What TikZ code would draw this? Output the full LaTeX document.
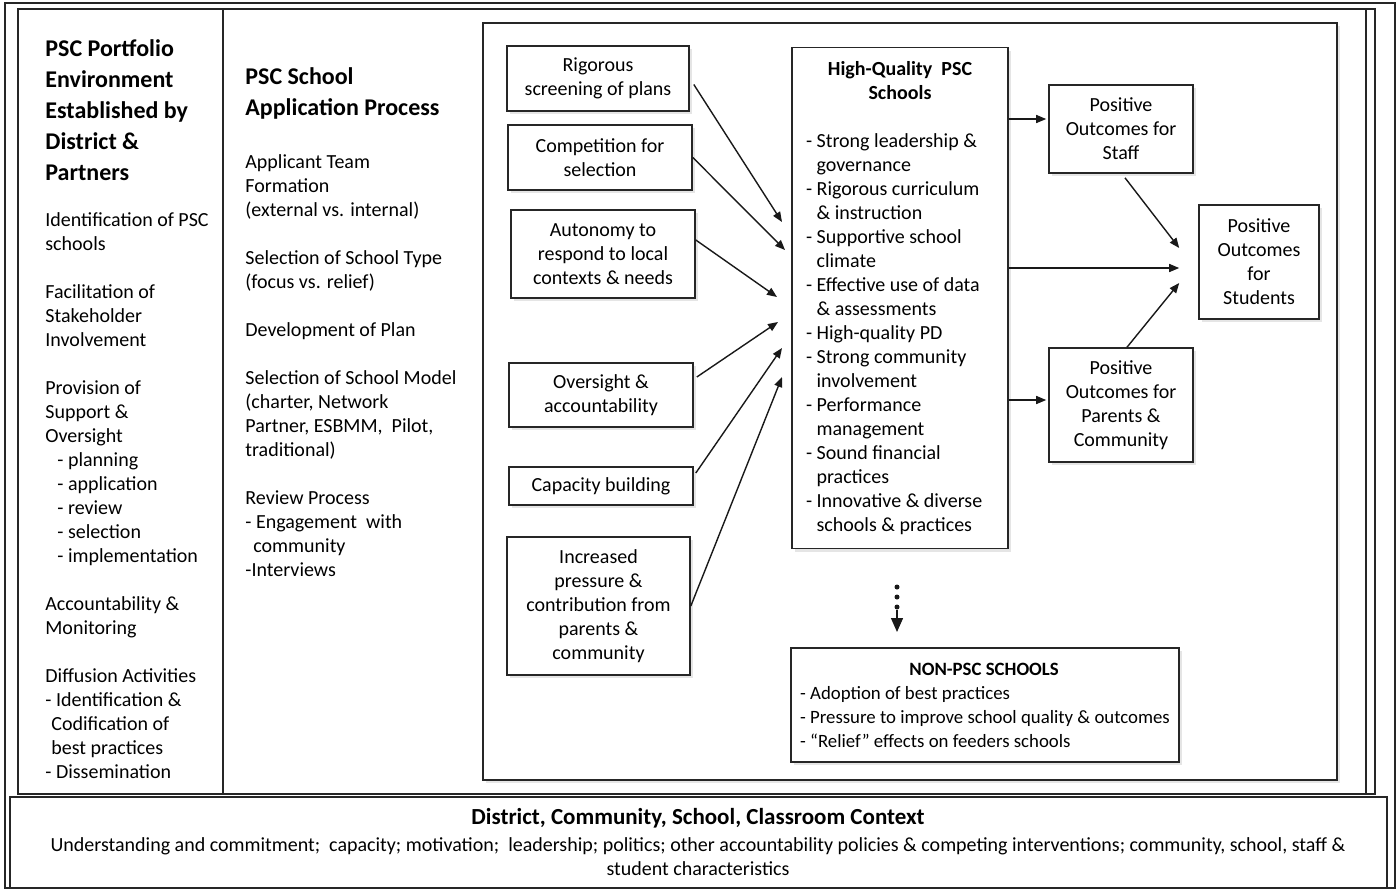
\documentclass[tikz,border=0pt]{standalone}
\usepackage{fontspec}
\setmainfont{Carlito}
\usetikzlibrary{arrows.meta,positioning,calc,shadows}
\newcommand{\hangpad}{\hspace*{5.3pt}}
\tikzset{
  frame/.style={draw=black!85,line width=0.8pt},
  panel/.style={draw=black!85,line width=0.8pt,fill=white,
    drop shadow={opacity=0.2,shadow xshift=1.5pt,shadow yshift=-1.5pt}},
  factor/.style={rectangle,draw=black!85,line width=0.8pt,fill=white,
    align=center,font=\fontsize{10}{12}\selectfont,inner sep=2pt,
    drop shadow={opacity=0.2,shadow xshift=1.5pt,shadow yshift=-1.5pt}},
  schools/.style={factor,align=left,inner xsep=7pt},
  coltext/.style={anchor=north west,inner sep=0pt,align=left,
    font=\fontsize{10}{12}\selectfont},
  colhead/.style={anchor=north west,inner sep=0pt,align=left,
    font=\fontsize{12}{15.5}\selectfont\bfseries},
  arrow/.style={-{Triangle[length=5pt,width=4pt]},line width=0.7pt,draw=black!90},
  bigarrow/.style={-{Triangle[length=7pt,width=6pt]},line width=0.7pt,draw=black!90},
  dots/.style={line width=2.5pt,line cap=round,dash pattern=on 0pt off 5pt,draw=black!90}
}
\begin{document}
\begin{tikzpicture}[x=0.5pt,y=-0.5pt]
  \useasboundingbox (0,0) rectangle (1396,890);

  % frames
  \draw[frame] (5,3) rectangle (1395,888);
  \draw[frame] (18,9) rectangle (1375,794);
  \draw[frame] (1366,9) -- (1366,794);
  \draw[frame] (223,9) -- (223,794);
  \draw[panel] (483,23) rectangle (1337,780);
  \draw[frame,fill=white] (10,797) rectangle (1387,888);

  % left column
  \node[colhead] (envhead) at (45,39)
    {PSC Portfolio\\ Environment\\ Established by\\ District \&\\ Partners};
  \node[coltext] (envtext) at (45,212)
    {Identification of PSC\\ schools\\[12pt]
     Facilitation of\\ Stakeholder\\ Involvement\\[12pt]
     Provision of\\ Support \&\\ Oversight\\
     \hspace*{6pt}- planning\\ \hspace*{6pt}- application\\
     \hspace*{6pt}- review\\ \hspace*{6pt}- selection\\
     \hspace*{6pt}- implementation\\[12pt]
     Accountability \&\\ Monitoring\\[12pt]
     Diffusion Activities\\ - Identification \&\\
     \hspace*{3pt}Codification of\\ \hspace*{3pt}best practices\\
     - Dissemination};

  % second column
  \node[colhead] (apphead) at (245,67) {PSC School\\ Application Process};
  \node[coltext] (apptext) at (245,154)
    {Applicant Team\\ Formation\\ (external vs. internal)\\[12pt]
     Selection of School Type\\ (focus vs. relief)\\[12pt]
     Development of Plan\\[12pt]
     Selection of School Model\\ (charter, Network\\
     Partner, ESBMM,\ \ Pilot,\\ traditional)\\[12pt]
     Review Process\\ - Engagement\ \ with\\ \hspace*{4pt}community\\
     -Interviews};

  % levers
  \node[factor,minimum width=91pt,minimum height=32.5pt] (rigor) at (598,78.5)
    {Rigorous\\ screening of plans};
  \node[factor,minimum width=92pt,minimum height=32.5pt] (compete) at (600,157.5)
    {Competition for\\ selection};
  \node[factor,minimum width=92pt,minimum height=44pt] (autonomy) at (603,254)
    {Autonomy to\\ respond to local\\ contexts \& needs};
  \node[factor,minimum width=92pt,minimum height=32pt] (oversight) at (601,395)
    {Oversight \&\\ accountability};
  \node[factor,minimum width=92pt,minimum height=19pt] (capacity) at (601,486)
    {Capacity building};
  \node[factor,minimum width=91.5pt,minimum height=69pt] (pressure) at (598.5,606)
    {Increased\\ pressure \&\\ contribution from\\ parents \&\\ community};

  % schools
  \node[schools,minimum width=108pt,minimum height=250.5pt] (hq) at (900,298)
    {\makebox[94pt][c]{\bfseries High-Quality\ \ PSC}\\
     \makebox[94pt][c]{\bfseries Schools}\\[12pt]
     - Strong leadership \&\\ \hangpad governance\\
     - Rigorous curriculum\\ \hangpad\& instruction\\
     - Supportive school\\ \hangpad climate\\
     - Effective use of data\\ \hangpad\& assessments\\
     - High-quality PD\\
     - Strong community\\ \hangpad involvement\\
     - Performance\\ \hangpad management\\
     - Sound financial\\ \hangpad practices\\
     - Innovative \& diverse\\ \hangpad schools \& practices};
  \node[schools,inner xsep=4.5pt,minimum width=193pt,minimum height=57pt,
    font=\fontsize{9.4}{12}\selectfont] (nonpsc) at (985,705)
    {\makebox[184pt][c]{\bfseries NON-PSC SCHOOLS}\\
     - Adoption of best practices\\
     - Pressure to improve school quality \& outcomes\\
     - ``Relief'' effects on feeders schools};

  % outcomes
  \node[factor,minimum width=72pt,minimum height=44pt] (staff) at (1121,129)
    {Positive\\ Outcomes for\\ Staff};
  \node[factor,minimum width=72pt,minimum height=57pt] (parents) at (1121,405)
    {Positive\\ Outcomes for\\ Parents \&\\ Community};
  \node[factor,minimum width=60pt,minimum height=57pt] (students) at (1259,262)
    {Positive\\ Outcomes\\ for\\ Students};

  % context
  \node[anchor=north,inner sep=0pt,align=center,font=\fontsize{10}{12}\selectfont]
    (context) at (698,808)
    {{\bfseries\fontsize{11.5}{13}\selectfont District, Community, School, Classroom Context}\\[1.5pt]
     Understanding and commitment;\ \ capacity; motivation;\ \ leadership; politics;
     other accountability policies \& competing interventions; community, school, staff \&\\
     student characteristics};

  % arrows into the schools box
  \coordinate (hqin1) at (782,222);
  \coordinate (hqin2) at (785,250);
  \coordinate (hqin3) at (777,297);
  \coordinate (hqin4) at (778,322);
  \coordinate (hqin5) at (782,348);
  \coordinate (hqin6) at (782,377);
  \draw[arrow] ($(rigor.east)+(4,6)$) -- (hqin1);
  \draw[arrow] (compete.east) -- (hqin2);
  \draw[arrow] ($(autonomy.east)+(0,-14)$) -- (hqin3);
  \draw[arrow] ($(oversight.east)+(3,-18)$) -- (hqin4);
  \draw[arrow] ($(capacity.east)+(2,-13)$) -- (hqin5);
  \draw[arrow] (pressure.east) -- (hqin6);

  % arrows to outcomes
  \coordinate (staffin) at ($(staff.west)+(-2,-10)$);
  \coordinate (parin) at ($(parents.west)+(-2,-5)$);
  \coordinate (stin1) at ($(students.west)+(-19,-14)$);
  \coordinate (stin2) at ($(students.west)+(-19,6)$);
  \coordinate (stin3) at ($(students.west)+(-19,21)$);
  \draw[arrow] (hq.east |- staffin) -- (staffin);
  \draw[arrow] (hq.east |- parin) -- (parin);
  \draw[arrow] (hq.east |- stin2) -- (stin2);
  \draw[arrow] ($(staff.south)+(4,4)$) -- (stin1);
  \draw[arrow] ($(parents.north)+(6,0)$) -- (stin3);

  % diffusion to non-PSC schools
  \coordinate (dtop) at (897,587);
  \coordinate (dmid) at (897,610);
  \coordinate (dend) at (897,632);
  \draw[dots] (dtop) -- (dmid);
  \draw[bigarrow] (dmid) -- (dend);
\end{tikzpicture}
\end{document}
